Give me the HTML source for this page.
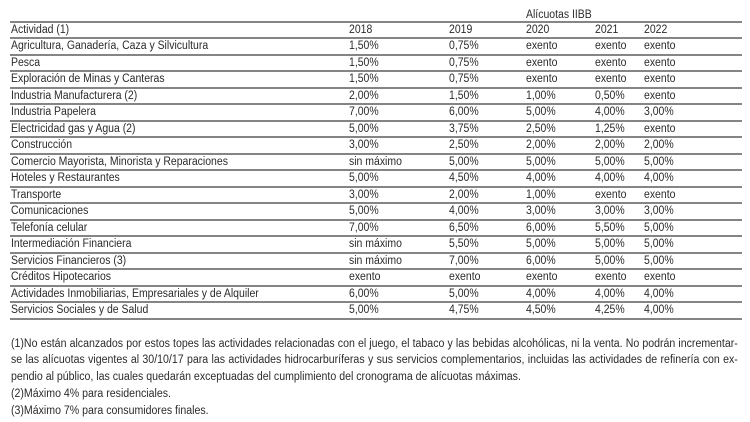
<!DOCTYPE html>
<html>
<head>
<meta charset="utf-8">
<style>
html,body{margin:0;padding:0;}
body{width:750px;height:422px;background:#fff;position:relative;overflow:hidden;
 font-family:"Liberation Sans",Arial,sans-serif;font-size:11.5px;color:#2b2b2b;}
.l{position:absolute;left:10px;width:732px;height:2px;background:#858585;}
.r{position:absolute;left:0;width:750px;height:16.48px;line-height:16.48px;}
.r span{position:absolute;top:0;white-space:nowrap;transform:scaleX(.91);transform-origin:0 0;}
.c0{left:11px}.c1{left:349px}.c2{left:449px}.c3{left:526px}.c4{left:595px}.c5{left:644px}
.f{position:absolute;left:11px;height:16.6px;line-height:16.6px;white-space:nowrap;transform:scaleX(.92);transform-origin:0 0;}
.j{width:790px;text-align:justify;text-align-last:justify;}
</style>
</head>
<body>

<div class="r" style="top:6.8px"><span class="c3">Alícuotas IIBB</span></div>

<div class="l" style="top:21px"></div>
<div class="l" style="top:37.48px"></div>
<div class="l" style="top:53.96px"></div>
<div class="l" style="top:70.44px"></div>
<div class="l" style="top:86.92px"></div>
<div class="l" style="top:103.4px"></div>
<div class="l" style="top:119.88px"></div>
<div class="l" style="top:136.36px"></div>
<div class="l" style="top:152.84px"></div>
<div class="l" style="top:169.32px"></div>
<div class="l" style="top:185.8px"></div>
<div class="l" style="top:202.28px"></div>
<div class="l" style="top:218.76px"></div>
<div class="l" style="top:235.24px"></div>
<div class="l" style="top:251.72px"></div>
<div class="l" style="top:268.2px"></div>
<div class="l" style="top:284.68px"></div>
<div class="l" style="top:301.16px"></div>
<div class="l" style="top:317.64px"></div>

<div class="r" style="top:22px"><span class="c0">Actividad (1)</span><span class="c1">2018</span><span class="c2">2019</span><span class="c3">2020</span><span class="c4">2021</span><span class="c5">2022</span></div>
<div class="r" style="top:38.48px"><span class="c0">Agricultura, Ganadería, Caza y Silvicultura</span><span class="c1">1,50%</span><span class="c2">0,75%</span><span class="c3">exento</span><span class="c4">exento</span><span class="c5">exento</span></div>
<div class="r" style="top:54.96px"><span class="c0">Pesca</span><span class="c1">1,50%</span><span class="c2">0,75%</span><span class="c3">exento</span><span class="c4">exento</span><span class="c5">exento</span></div>
<div class="r" style="top:71.44px"><span class="c0">Exploración de Minas y Canteras</span><span class="c1">1,50%</span><span class="c2">0,75%</span><span class="c3">exento</span><span class="c4">exento</span><span class="c5">exento</span></div>
<div class="r" style="top:87.92px"><span class="c0">Industria Manufacturera (2)</span><span class="c1">2,00%</span><span class="c2">1,50%</span><span class="c3">1,00%</span><span class="c4">0,50%</span><span class="c5">exento</span></div>
<div class="r" style="top:104.4px"><span class="c0">Industria Papelera</span><span class="c1">7,00%</span><span class="c2">6,00%</span><span class="c3">5,00%</span><span class="c4">4,00%</span><span class="c5">3,00%</span></div>
<div class="r" style="top:120.88px"><span class="c0">Electricidad gas y Agua (2)</span><span class="c1">5,00%</span><span class="c2">3,75%</span><span class="c3">2,50%</span><span class="c4">1,25%</span><span class="c5">exento</span></div>
<div class="r" style="top:137.36px"><span class="c0">Construcción</span><span class="c1">3,00%</span><span class="c2">2,50%</span><span class="c3">2,00%</span><span class="c4">2,00%</span><span class="c5">2,00%</span></div>
<div class="r" style="top:153.84px"><span class="c0">Comercio Mayorista, Minorista y Reparaciones</span><span class="c1">sin máximo</span><span class="c2">5,00%</span><span class="c3">5,00%</span><span class="c4">5,00%</span><span class="c5">5,00%</span></div>
<div class="r" style="top:170.32px"><span class="c0">Hoteles y Restaurantes</span><span class="c1">5,00%</span><span class="c2">4,50%</span><span class="c3">4,00%</span><span class="c4">4,00%</span><span class="c5">4,00%</span></div>
<div class="r" style="top:186.8px"><span class="c0">Transporte</span><span class="c1">3,00%</span><span class="c2">2,00%</span><span class="c3">1,00%</span><span class="c4">exento</span><span class="c5">exento</span></div>
<div class="r" style="top:203.28px"><span class="c0">Comunicaciones</span><span class="c1">5,00%</span><span class="c2">4,00%</span><span class="c3">3,00%</span><span class="c4">3,00%</span><span class="c5">3,00%</span></div>
<div class="r" style="top:219.76px"><span class="c0">Telefonía celular</span><span class="c1">7,00%</span><span class="c2">6,50%</span><span class="c3">6,00%</span><span class="c4">5,50%</span><span class="c5">5,00%</span></div>
<div class="r" style="top:236.24px"><span class="c0">Intermediación Financiera</span><span class="c1">sin máximo</span><span class="c2">5,50%</span><span class="c3">5,00%</span><span class="c4">5,00%</span><span class="c5">5,00%</span></div>
<div class="r" style="top:252.72px"><span class="c0">Servicios Financieros (3)</span><span class="c1">sin máximo</span><span class="c2">7,00%</span><span class="c3">6,00%</span><span class="c4">5,00%</span><span class="c5">5,00%</span></div>
<div class="r" style="top:269.2px"><span class="c0">Créditos Hipotecarios</span><span class="c1">exento</span><span class="c2">exento</span><span class="c3">exento</span><span class="c4">exento</span><span class="c5">exento</span></div>
<div class="r" style="top:285.68px"><span class="c0">Actividades Inmobiliarias, Empresariales y de Alquiler</span><span class="c1">6,00%</span><span class="c2">5,00%</span><span class="c3">4,00%</span><span class="c4">4,00%</span><span class="c5">4,00%</span></div>
<div class="r" style="top:302.16px"><span class="c0">Servicios Sociales y de Salud</span><span class="c1">5,00%</span><span class="c2">4,75%</span><span class="c3">4,50%</span><span class="c4">4,25%</span><span class="c5">4,00%</span></div>

<div class="f j" style="top:335.7px">(1)No están alcanzados por estos topes las actividades relacionadas con el juego, el tabaco y las bebidas alcohólicas, ni la venta. No podrán incrementar-</div>
<div class="f j" style="top:352.2px">se las alícuotas vigentes al 30/10/17 para las actividades hidrocarburíferas y sus servicios complementarios, incluidas las actividades de refinería con ex-</div>
<div class="f" style="top:368.7px">pendio al público, las cuales quedarán exceptuadas del cumplimiento del cronograma de alícuotas máximas.</div>
<div class="f" style="top:385.7px">(2)Máximo 4% para residenciales.</div>
<div class="f" style="top:402.7px">(3)Máximo 7% para consumidores finales.</div>

</body>
</html>
